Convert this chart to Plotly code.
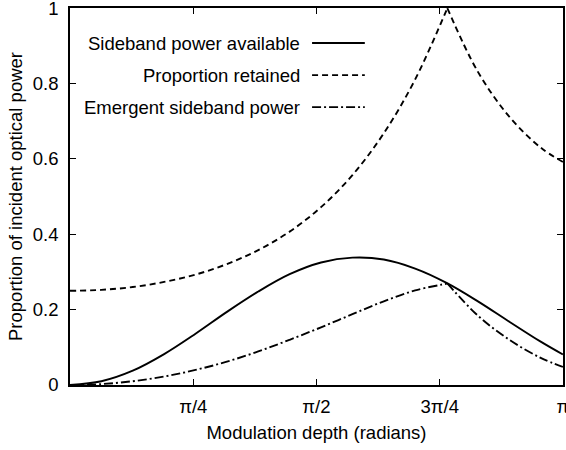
import numpy as np
import plotly.graph_objects as go

PI = np.pi
# Read values (x in radians)
x_avail = [0, 0.2, 0.4, 0.6, 0.8, 1.0, 1.2, 1.4, 1.6, 1.8, 2.0, 2.2, 2.4, 2.6, 2.8, 3.0, PI]
y_avail = [0, 0.010, 0.038, 0.082, 0.136, 0.194, 0.248, 0.294, 0.325, 0.338, 0.333, 0.309, 0.271, 0.222, 0.168, 0.115, 0.081]

x_ret_a = [0, 0.2, 0.4, 0.6, 0.8, 1.0, 1.2, 1.4, 1.6, 1.8, 2.0, 2.2, 2.4, 2.405]
y_ret_a = [0.25, 0.2525, 0.260, 0.2735, 0.293, 0.321, 0.358, 0.407, 0.472, 0.557, 0.668, 0.811, 0.995, 1.0]
x_ret_b = [2.405, 2.6, 2.8, 3.0, PI]
y_ret_b = [1.0, 0.831, 0.712, 0.630, 0.592]

x_em_a = [0, 0.2, 0.4, 0.6, 0.8, 1.0, 1.2, 1.4, 1.6, 1.8, 2.0, 2.2, 2.4, 2.405]
y_em_a = [0, 0.0025, 0.010, 0.0225, 0.040, 0.062, 0.089, 0.120, 0.153, 0.188, 0.222, 0.251, 0.269, 0.2695]
x_em_b = [2.405, 2.6, 2.8, 3.0, PI]
y_em_b = [0.2695, 0.184, 0.120, 0.072, 0.048]

xtick_vals = [PI / 4, PI / 2, 3 * PI / 4, PI]
xtick_text = ["π/4", "π/2", "3π/4", "π"]
ytick_vals = [0, 0.2, 0.4, 0.6, 0.8, 1]
ytick_text = ["0", "0.2", "0.4", "0.6", "0.8", "1"]

legend_names = ["Sideband power available", "Proportion retained", "Emergent sideband power"]

DASH = "6px,4px"
DASHDOT = "9px,3px,2px,3px"
LW = 1.9

fig = go.Figure()
fig.add_trace(go.Scatter(x=x_avail, y=y_avail, mode="lines", line=dict(color="black", width=LW, shape="spline"),
                         showlegend=False))
for xs, ys in [(x_ret_a, y_ret_a), (x_ret_b, y_ret_b)]:
    fig.add_trace(go.Scatter(x=xs, y=ys, mode="lines",
                             line=dict(color="black", width=LW, dash=DASH, shape="spline"), showlegend=False))
for xs, ys in [(x_em_a, y_em_a), (x_em_b, y_em_b)]:
    fig.add_trace(go.Scatter(x=xs, y=ys, mode="lines",
                             line=dict(color="black", width=LW, dash=DASHDOT, shape="spline"), showlegend=False))

font = dict(family="Liberation Sans, Arial, sans-serif", size=18.5, color="black")

# Custom legend (text on left, line sample on right)
leg_y = [0.907, 0.822, 0.737]
dashes = ["solid", DASH, DASHDOT]
for name, yy, d in zip(legend_names, leg_y, dashes):
    fig.add_annotation(x=0.471, y=yy, xref="paper", yref="paper", text=name, showarrow=False,
                       xanchor="right", yanchor="middle", font=font)
    fig.add_shape(type="line", xref="paper", yref="paper", x0=0.491, x1=0.598, y0=yy, y1=yy,
                  line=dict(color="black", width=LW, dash=d))

fig.update_layout(
    width=566, height=450,
    margin=dict(l=70, r=3, t=8, b=65),
    paper_bgcolor="white", plot_bgcolor="white",
    font=font,
)
fig.update_xaxes(range=[0, PI * 1.0002], tickvals=xtick_vals, ticktext=xtick_text, ticks="inside", ticklen=6,
                 tickwidth=1.2, tickcolor="black", showline=True, linecolor="black", linewidth=1.5,
                 mirror="ticks", showgrid=False, zeroline=False, ticklabelstandoff=4, automargin=False,
                 tickfont=font, ticklabeloverflow="allow",
                 title=dict(text="Modulation depth (radians)", font=font, standoff=10))
fig.update_yaxes(range=[0, 1.0005], tickvals=ytick_vals, ticktext=ytick_text, ticks="inside", ticklen=6,
                 tickwidth=1.2, tickcolor="black", showline=True, linecolor="black", linewidth=1.5,
                 mirror="ticks", showgrid=False, zeroline=False, ticklabelstandoff=6, automargin=False,
                 tickfont=font, ticklabeloverflow="allow",
                 title=dict(text="Proportion of incident optical power", font=font, standoff=5))

fig.write_html("out.html", config={"displayModeBar": False},
               post_script="document.body.style.margin='0';document.body.style.overflow='hidden';")
